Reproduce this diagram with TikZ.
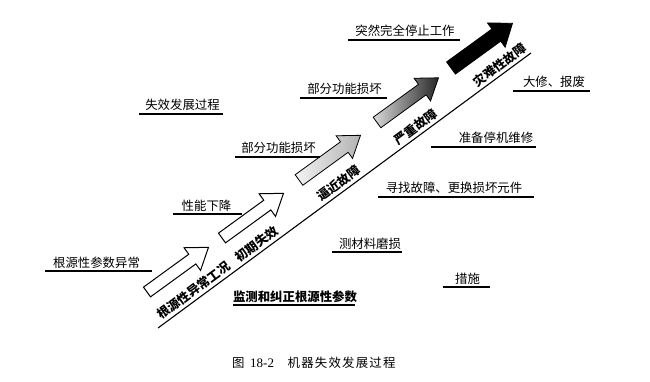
\documentclass[tikz,border=0pt]{standalone}
\usepackage{fontspec}
\setmainfont{Noto Sans CJK SC}
\newfontfamily\capfont{Noto Sans CJK SC}[LetterSpace=10]
\newfontfamily\capnum{Liberation Serif}
\usetikzlibrary{calc}
\tikzset{
  lbl/.style={font=\fontsize{12.4}{14}\selectfont, inner sep=0pt},
  blbl/.style={lbl, font=\fontsize{12.4}{14}\selectfont\bfseries},
  ul/.style={line width=1.3pt},
  axisline/.style={line width=1.1pt},
  blkwhite/.style={draw, line width=1pt, fill=white, line join=miter},
  blklight/.style={draw, line width=0.8pt, left color=gray!10, right color=gray!60, line join=miter},
  blkdark/.style={draw, line width=0.8pt, left color=gray!30, right color=black!85, line join=miter},
  blkblack/.style={draw, line width=0.8pt, fill=black, line join=miter},
}
\newcommand\blkarrow[6]{% style, tail x, tail y, half shaft, half head, name
  \begin{scope}[shift={(#2,#3)}, rotate=36]
    \coordinate (#6) at (0,0);
    \path[#1] (0,-#4) -- (56,-#4) -- (56,-#5) -- (76,0) -- (56,#5) -- (56,#4) -- (0,#4) -- cycle;
  \end{scope}}
\newcommand\ulabel[7]{% style, name, cx, uly, x1, x2, text
  \node[#1, anchor=base] (#2) at (#3, #4-4) {#7};
  \draw[ul] ([shift={(#5-#3,4)}]#2.base) -- ([shift={(#6-#3,4)}]#2.base);}
\begin{document}
\begin{tikzpicture}[x=1pt, y=-1pt]
\useasboundingbox (0,0) rectangle (650,382);

% block arrows
\blkarrow{blkwhite}{147}{292}{6}{14}{arA}
\blkarrow{blkwhite}{222}{238}{6}{14}{arB}
\blkarrow{blklight}{299}{180}{6.5}{14}{arC}
\blkarrow{blkdark}{377}{122.5}{6.5}{14}{arD}
\blkarrow{blkblack}{451}{68}{7.5}{15}{arE}

% diagonal line with stage labels
\coordinate (ls) at (158,328);
\coordinate (le) at (531,53);
\draw[axisline] (ls) --
  node[blbl, sloped, above, pos=0.175, inner sep=2.5pt] (s1) {根源性异常工况\hspace{0.8em}初期失效}
  node[blbl, sloped, above, pos=0.50, inner sep=2.5pt] (s2) {逼近故障}
  node[blbl, sloped, above, pos=0.705, inner sep=2.5pt] (s3) {严重故障}
  node[blbl, sloped, above, pos=0.93, inner sep=2.5pt] (s4) {灾难性故障}
  (le);

% underlined labels
\ulabel{lbl}{t1}{182.5}{114}{139}{223}{失效发展过程}
\ulabel{lbl}{t2}{278.5}{157}{235}{320}{部分功能损坏}
\ulabel{lbl}{t3}{344.5}{98}{300}{387}{部分功能损坏}
\ulabel{lbl}{t4}{405}{40}{348}{460}{突然完全停止工作}
\ulabel{lbl}{t5}{554}{91}{513}{590}{大修、报废}
\ulabel{lbl}{t6}{496}{147}{431}{536}{准备停机维修}
\ulabel{lbl}{t7}{454}{197}{378}{534}{寻找故障、更换损坏元件}
\ulabel{lbl}{t8}{370}{252}{332}{402}{测材料磨损}
\ulabel{lbl}{t9}{467.5}{287}{443}{490}{措施}
\ulabel{blbl}{t10}{295}{305}{233}{355}{监测和纠正根源性参数}
\ulabel{lbl}{t11}{96.5}{271}{45}{152}{根源性参数异常}
\ulabel{lbl}{t12}{206.5}{214}{173}{242}{性能下降}

% caption
\node[lbl, anchor=base west, font=\fontsize{12.4}{14}\selectfont\capfont] (cap) at (232,367)
  {图\hspace{0.45em}{\capnum\fontsize{13}{14}\selectfont 18-2}\hspace{1.1em}机器失效发展过程};
\end{tikzpicture}
\end{document}
